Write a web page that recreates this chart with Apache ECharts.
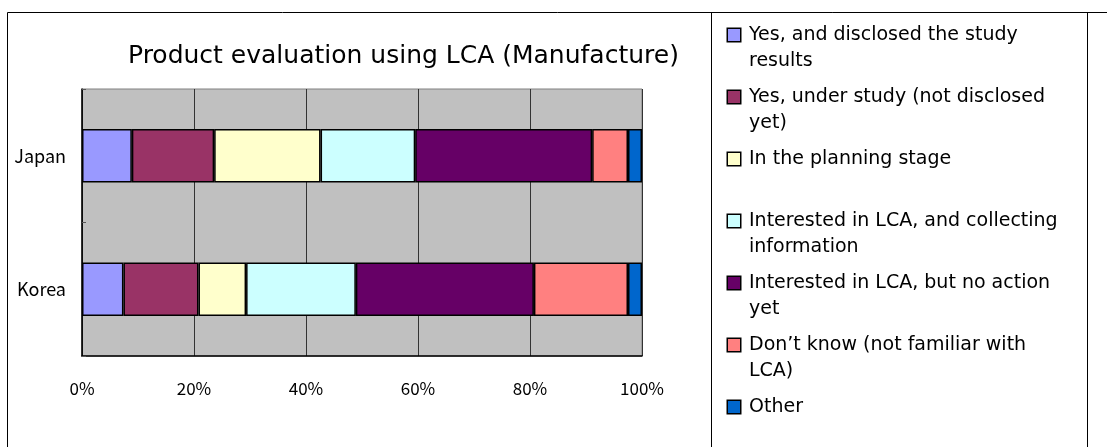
<!DOCTYPE html>
<html>
	<head>
		<meta charset="utf-8">
		<title>Product evaluation using LCA (Manufacture)</title>
		<style>
			html,body{margin:0;padding:0;background:#fff;}
			#lcaChart{width:1107px;height:447px;}
		</style>
	</head>
	<body>
		<div id="lcaChart"></div>
		<script src="https://cdn.jsdelivr.net/npm/echarts@6/dist/echarts.min.js" type="text/javascript" charset="utf-8"></script>
		<script type="text/javascript">
			var countries = ['Japan','Korea'];
			var seriesNames = [
				'Yes, and disclosed the study results',
				'Yes, under study (not disclosed yet)',
				'In the planning stage',
				'Interested in LCA, and collecting information',
				'Interested in LCA, but no action yet',
				'Don\u2019t know (not familiar with LCA)',
				'Other'
			];
			// legend text as it wraps in the original
			var legendLines = [
				['Yes, and disclosed the study','results'],
				['Yes, under study (not disclosed','yet)'],
				['In the planning stage',''],
				['Interested in LCA, and collecting','information'],
				['Interested in LCA, but no action','yet'],
				['Don\u2019t know (not familiar with','LCA)'],
				['Other']
			];
			var colors = ['#9999FF','#993366','#FFFFCC','#CCFFFF','#660066','#FF8080','#0066CC'];
			// percent per country, [Japan, Korea]
			var yesDisclosed = [8.9,7.4];
			var yesUnderStudy = [14.7,13.4];
			var planning = [19.0,8.5];
			var collecting = [16.9,19.6];
			var noAction = [31.6,31.8];
			var dontKnow = [6.4,16.8];
			var other = [2.5,2.5];
			var xTicks = [0,20,40,60,80,100];

			var values = [yesDisclosed,yesUnderStudy,planning,collecting,noAction,dontKnow,other];
			var cjkFont = '"Noto Sans CJK JP","Noto Sans",sans-serif';
			var wideFont = '"DejaVu Sans",sans-serif';

			var rich = {
				t : {fontSize:19,lineHeight:26,color:'#000',fontFamily:wideFont},
				sp : {width:21,lineHeight:26},
				g : {width:9,lineHeight:26}
			};
			for(var i = 0; i < colors.length; i++){
				rich['b' + i] = {
					width:12,
					height:12,
					backgroundColor:colors[i],
					borderColor:'#000',
					borderWidth:1.5,
					verticalAlign:'middle'
				};
			}

			var series = [];
			for(var i = 0; i < seriesNames.length; i++){
				series.push({
					name: seriesNames[i],
					type: 'bar',
					stack: 'total',
					barCategoryGap: '60%',
					itemStyle: {
						color: colors[i],
						borderColor: '#000',
						borderWidth: 1.5
					},
					emphasis: {disabled: true},
					data: values[i]
				});
			}

			var myChart = echarts.init(document.getElementById('lcaChart'));
			var option = {
				animation: false,
				textStyle: {fontFamily: cjkFont},
				title: {
					text: 'Product evaluation using LCA (Manufacture)',
					left: 123,
					top: 39,
					textStyle: {
						fontSize: 25,
						fontWeight: 'normal',
						color: '#000',
						fontFamily: wideFont
					}
				},
				legend: {
					orient: 'vertical',
					left: 723,
					top: 22,
					padding: 0,
					itemGap: 10,
					itemWidth: 0,
					itemHeight: 0,
					itemStyle: {borderWidth: 0},
					selectedMode: false,
					data: seriesNames,
					formatter: function(name){
						var idx = seriesNames.indexOf(name),
							lines = legendLines[idx],
							txt = '{b' + idx + '|}{g|}{t|' + lines[0] + '}';
						if(lines.length > 1){
							txt += '\n{sp|}{t|' + (lines[1] || ' ') + '}';
						}
						return txt;
					},
					textStyle: {rich: rich, fontSize: 19, lineHeight: 26}
				},
				grid: {
					left: 82,
					right: 465,
					top: 89,
					bottom: 91,
					show: true,
					backgroundColor: '#C0C0C0',
					borderColor: '#808080',
					borderWidth: 1
				},
				xAxis: {
					type: 'value',
					min: xTicks[0],
					max: xTicks[xTicks.length - 1],
					interval: 20,
					axisLine: {show: true, lineStyle: {color: '#000', width: 1.5}},
					axisTick: {show: false},
					axisLabel: {
						formatter: '{value}%',
						margin: 24,
						fontSize: 17,
						color: '#000',
						fontFamily: cjkFont
					},
					splitLine: {show: true, lineStyle: {color: '#333', width: 1}}
				},
				yAxis: {
					type: 'category',
					inverse: true,
					data: countries,
					axisLine: {show: true, lineStyle: {color: '#000', width: 1.5}},
					axisTick: {show: true, inside: true, length: 4, lineStyle: {color: '#555'}},
					axisLabel: {
						margin: 16,
						fontSize: 18,
						color: '#000',
						fontFamily: cjkFont
					}
				},
				series: series,
				graphic: [
					{type:'line',silent:true,shape:{x1:7.5,y1:12.5,x2:1107,y2:12.5},style:{stroke:'#000',lineWidth:1}},
					{type:'line',silent:true,shape:{x1:7.5,y1:12.5,x2:7.5,y2:447},style:{stroke:'#000',lineWidth:1}},
					{type:'line',silent:true,shape:{x1:711.5,y1:12.5,x2:711.5,y2:447},style:{stroke:'#000',lineWidth:1}},
					{type:'line',silent:true,shape:{x1:1087.5,y1:12.5,x2:1087.5,y2:447},style:{stroke:'#000',lineWidth:1}}
				]
			};
			myChart.setOption(option);
		</script>
	</body>
</html>
